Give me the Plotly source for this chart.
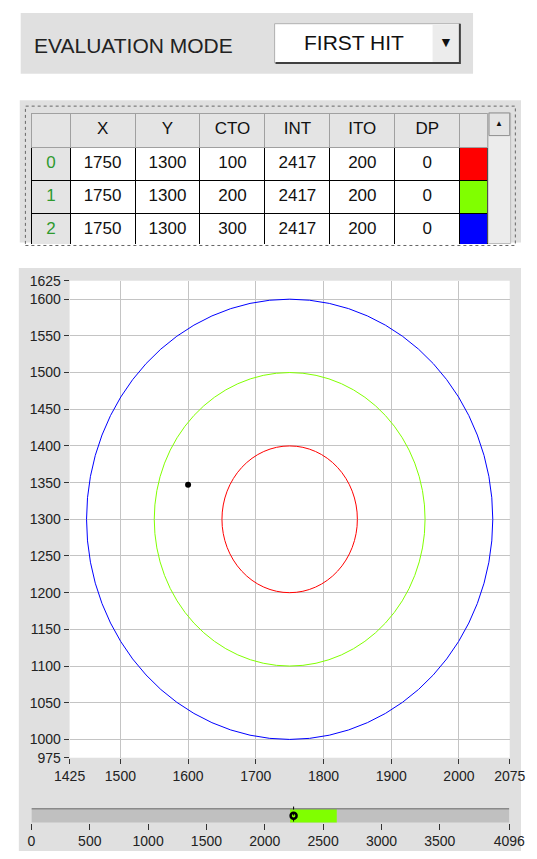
import plotly.graph_objects as go

W, H = 537, 859

# ---------------- data ----------------
row_ids = ["0", "1", "2"]
x_centers = [1750, 1750, 1750]
y_centers = [1300, 1300, 1300]
cto = [100, 200, 300]
int_vals = [2417, 2417, 2417]
ito = [200, 200, 200]
dp = [0, 0, 0]
row_colors = ["#ff0000", "#80ff00", "#0000ff"]
headers = ["", "X", "Y", "CTO", "INT", "ITO", "DP", ""]

point_x = [1600]
point_y = [1347]
measured_int = [2247]

x_ticks = [1425, 1500, 1600, 1700, 1800, 1900, 2000, 2075]
y_ticks = [975, 1000, 1050, 1100, 1150, 1200, 1250, 1300, 1350, 1400,
           1450, 1500, 1550, 1600, 1625]
int_ticks = [0, 500, 1000, 1500, 2000, 2500, 3000, 3500, 4096]

mode_label = "EVALUATION MODE"
mode_value = "FIRST HIT"

FONT = "Liberation Sans, Arial, sans-serif"


def px(x):
    return x / W


def py(y):
    return 1 - y / H


fig = go.Figure()

n = len(row_ids)
fig.add_trace(go.Table(
    domain=dict(x=[px(17), px(502)], y=[py(241), py(107)]),
    columnwidth=[40.5, 69, 69, 69, 69, 69, 69, 30],
    header=dict(values=headers, fill=dict(color="#e4e4e4"),
                line=dict(color="#a0a0a0", width=1),
                font=dict(family=FONT, size=17, color="#111"),
                align="center", height=34),
    cells=dict(values=[row_ids, x_centers, y_centers, cto, int_vals, ito, dp, [""] * n],
               fill=dict(color=[["#e4e4e4"] * n] + [["#ffffff"] * n] * 6 + [row_colors]),
               line=dict(color="#000000", width=1),
               font=dict(family=FONT, size=17,
                         color=[["#2e9a2e"] * n] + [["#111111"] * n] * 7),
               align="center", height=33),
))

fig.add_trace(go.Scatter(x=point_x, y=point_y, mode="markers",
                         marker=dict(color="black", size=6),
                         xaxis="x", yaxis="y", showlegend=False, hoverinfo="skip"))
fig.add_trace(go.Scatter(x=measured_int, y=[0.5], mode="markers",
                         marker=dict(symbol="circle-open", color="black", size=6,
                                     line=dict(width=2.5)),
                         xaxis="x2", yaxis="y2", showlegend=False, hoverinfo="skip"))

shapes = []
# gray panels
shapes.append(dict(type="rect", xref="paper", yref="paper", layer="below",
                   x0=px(5), x1=px(486), y0=py(67), y1=py(5),
                   fillcolor="#e0e0e0", line=dict(width=0)))
shapes.append(dict(type="rect", xref="paper", yref="paper", layer="below",
                   x0=px(4), x1=px(537), y0=py(239), y1=py(94),
                   fillcolor="#e0e0e0", line=dict(width=0)))
shapes.append(dict(type="rect", xref="paper", yref="paper", layer="below",
                   x0=px(3), x1=px(537), y0=0, y1=py(265),
                   fillcolor="#e0e0e0", line=dict(width=0)))
# white plot area
shapes.append(dict(type="rect", xref="x domain", yref="y domain", layer="below",
                   x0=0, x1=1, y0=0, y1=1, fillcolor="#ffffff", line=dict(width=0)))
# dotted table frame
shapes.append(dict(type="rect", xref="paper", yref="paper", layer="below",
                   x0=px(10), x1=px(531), y0=py(242), y1=py(100),
                   line=dict(color="#666", width=1, dash="dot")))
# scrollbar
shapes.append(dict(type="rect", xref="paper", yref="paper",
                   x0=px(502), x1=px(526), y0=py(240), y1=py(107),
                   fillcolor="#ececec", line=dict(color="#bbb", width=1)))
shapes.append(dict(type="rect", xref="paper", yref="paper",
                   x0=px(503), x1=px(525), y0=py(130), y1=py(107),
                   fillcolor="#e4e4e4", line=dict(color="#909090", width=1)))
# dropdown box with bevel
shapes.append(dict(type="rect", xref="paper", yref="paper",
                   x0=px(275), x1=px(472), y0=py(56), y1=py(16),
                   fillcolor="#ffffff", line=dict(color="#b0b0b0", width=1)))
shapes.append(dict(type="rect", xref="paper", yref="paper",
                   x0=px(443), x1=px(471), y0=py(55), y1=py(17),
                   fillcolor="#ececec", line=dict(width=0)))
shapes.append(dict(type="path", xref="paper", yref="paper",
                   path=f"M {px(276)},{py(56)} L {px(472)},{py(56)} L {px(472)},{py(16)}",
                   line=dict(color="#404040", width=2)))
# circles from table values
for cx, cy, r, col in zip(x_centers, y_centers, cto, row_colors):
    shapes.append(dict(type="circle", xref="x", yref="y",
                       x0=cx - r, x1=cx + r, y0=cy - r, y1=cy + r,
                       line=dict(color=col, width=1)))
# intensity bar
shapes.append(dict(type="rect", xref="x2", yref="y2 domain", layer="below",
                   x0=int_ticks[0], x1=int_ticks[-1], y0=0, y1=1,
                   fillcolor="#c0c0c0", line=dict(width=0)))
shapes.append(dict(type="rect", xref="x2", yref="y2 domain", layer="below",
                   x0=int_vals[0] - ito[0], x1=int_vals[0] + ito[0], y0=0, y1=1,
                   fillcolor="#80ff00", line=dict(width=0)))
shapes.append(dict(type="line", xref="x2", yref="y2 domain",
                   x0=int_ticks[0], x1=int_ticks[-1], y0=1, y1=1,
                   line=dict(color="#8a8a8a", width=1.5)))
shapes.append(dict(type="line", xref="x2", yref="paper",
                   x0=measured_int[0], x1=measured_int[0], y0=py(829), y1=py(813),
                   line=dict(color="black", width=1, dash="dot")))

annotations = [
    dict(text=mode_label, x=px(18), y=py(38), xref="paper", yref="paper",
         xanchor="left", yanchor="middle", showarrow=False, borderpad=0,
         font=dict(family=FONT, size=21, color="#222")),
    dict(text=mode_value, x=px(359), y=py(35), xref="paper", yref="paper",
         xanchor="center", yanchor="middle", showarrow=False,
         font=dict(family=FONT, size=21, color="#111")),
    dict(text="▼", x=px(457), y=py(35), xref="paper", yref="paper",
         xanchor="center", yanchor="middle", showarrow=False,
         font=dict(family=FONT, size=14, color="#111")),
    dict(text="▲", x=px(514), y=py(118), xref="paper", yref="paper",
         xanchor="center", yanchor="middle", showarrow=False,
         font=dict(family=FONT, size=8, color="#111")),
]

axis_common = dict(ticks="outside", ticklen=5, tickcolor="#333", tickwidth=1,
                   tickfont=dict(family=FONT, size=14, color="#222"),
                   zeroline=False, showline=False, fixedrange=True,
                   tickangle=0, ticklabeloverflow="allow")

fig.update_layout(
    width=W, height=H, autosize=False,
    margin=dict(l=0, r=0, t=0, b=0, pad=0),
    paper_bgcolor="#ffffff", plot_bgcolor="#ffffff", showlegend=False,
    shapes=shapes, annotations=annotations,
    xaxis=dict(domain=[px(57), px(525)], range=[x_ticks[0], x_ticks[-1]],
               tickmode="array", tickvals=x_ticks, showgrid=True,
               gridcolor="#c4c4c4", gridwidth=1, anchor="y", **axis_common),
    yaxis=dict(domain=[py(764), py(278)], range=[y_ticks[0], y_ticks[-1]],
               tickmode="array", tickvals=y_ticks, showgrid=True,
               gridcolor="#c4c4c4", gridwidth=1, anchor="x", **axis_common),
    xaxis2=dict(domain=[px(16.4), px(524.6)], range=[int_ticks[0], int_ticks[-1]],
                tickmode="array", tickvals=int_ticks, showgrid=False, anchor="y2",
                **{**axis_common, "ticklen": 6}),
    yaxis2=dict(domain=[py(830), py(816)], range=[0, 1], visible=False,
                anchor="x2", fixedrange=True),
)

fig.write_html(
    "out.html",
    config=dict(displayModeBar=False, staticPlot=True),
    post_script="document.body.style.margin='0';document.body.style.overflow='hidden';",
)
